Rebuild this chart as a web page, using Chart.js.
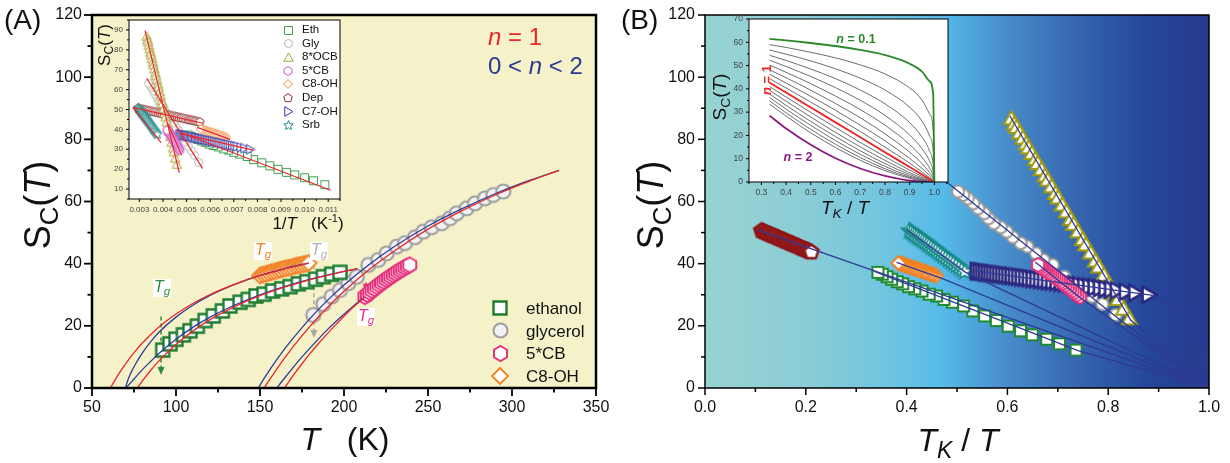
<!DOCTYPE html>
<html><head><meta charset="utf-8">
<script src="https://cdn.jsdelivr.net/npm/chart.js@4.4.1/dist/chart.umd.min.js"></script>
<style>
html,body{margin:0;padding:0;background:#fff;}
#wrap{position:relative;width:1230px;height:463px;overflow:hidden;font-family:"Liberation Sans",Arial,Helvetica,sans-serif;color:#111;}
#wrap canvas{position:absolute;}
.t{position:absolute;white-space:nowrap;line-height:1;}
.c{transform:translate(-50%,-50%);}
.r{transform:translate(-50%,-50%) rotate(-90deg);}
.l{transform:translate(0,-50%);}
sub{font-size:0.72em;vertical-align:-0.3em;line-height:0;}
sup{font-size:0.65em;vertical-align:0.55em;line-height:0;}
.tg{background:#fff;padding:0 1px 2px 1px;font-size:16px;}
</style></head><body>
<div id="wrap">
<canvas id="cA" width="615" height="463" style="left:0;top:0"></canvas>
<canvas id="cB" width="615" height="463" style="left:615px;top:0"></canvas>
<canvas id="iA" width="260" height="240" style="left:100px;top:0"></canvas>
<canvas id="iB" width="270" height="230" style="left:700px;top:0"></canvas>
</div>
<script>
// ---------------- DATA ----------------
// Ethanol
const ethT=[92.1,96.4,100,104.4,108.3,112.7,117.3,122.2,127.6,132.1,138.1,143,147.6,152.4,157.5,162.9,167.9,172.8,177.8,183.1,187.7,192.7,197.6];
const ethS=[12.2,14.2,15.7,17.1,18.4,19.9,21.7,23.2,24.8,26.4,27.6,28.5,29.6,30.2,31.2,31.9,32.6,33.5,34.2,35.0,35.8,36.6,37.2];
// Glycerol
const glyT=[181.7,187.7,192.7,197.6,202.6,207.6,214.5,220.4,225.4,231.4,236.3,242.3,247.2,252.2,258.2,263.1,267.1,273,278,283.9,288.9,294.8];
const glyS=[23.5,27.0,29.4,31.5,33.7,35.8,39.6,41.2,43.3,45.5,46.6,48.5,50.3,51.7,53.0,54.6,56.2,57.8,59.4,61.0,62.1,63.2];
// 5*CB
const cbT=[212.5,213.9,215.3,216.7,218.1,219.5,220.9,222.3,223.7,225.1,226.5,227.9,229.3,230.7,232.1,233.5,234.9,236.3,237.7,239.1];
const cbS=[29.4,30.1,30.8,31.4,32.0,32.6,33.2,33.8,34.3,34.9,35.4,35.9,36.4,36.9,37.4,37.9,38.3,38.8,39.2,39.6];
// C8-OH
const c8T=[150,151.7,153.4,155.1,156.8,158.5,160.2,161.9,163.6,165.3,167,168.7,170.4,172.1,173.8,175.5,177.2,178.9];
const c8S=[36.2,36.5,36.7,37.0,37.3,37.5,37.8,38.0,38.3,38.5,38.7,38.9,39.2,39.4,39.6,39.8,40.0,40.2];
// 8*OCB
const ocbT=[302,299,297,294,291,288,286,283,280,278,275,272,270,267,264,262,259,256,253,251,248,245,243,240,237,235,232,229,226,224,221,218];
const ocbS=[86.8,85.1,84.0,82.2,80.5,78.7,77.4,75.6,73.7,72.4,70.4,68.4,67.0,64.9,62.7,61.3,59.0,56.8,54.4,52.8,50.4,47.9,46.2,43.6,41.0,39.1,36.4,33.5,30.6,28.6,25.5,22.4];
// Dep
const depT=[340,330,320,311,302,294,286,279,272,265,259,253,247,242,237,232,227,222,218,214,210,206,202,198,195,192,189,186,183,180];
const depS=[50.6,50.4,50.1,49.9,49.6,49.4,49.1,48.9,48.7,48.4,48.2,47.9,47.7,47.5,47.2,47.0,46.7,46.5,46.3,46.0,45.8,45.6,45.3,45.0,44.8,44.6,44.4,44.2,43.9,43.7];
// C7-OH
const c7T=[212,210,208,206,204,202,200,198,196,194,192,190,188,186,184,182,180,178,176,174,172,170,168,166,164,162,160,158,156,154,152,150,148,146,144,142,140,137,134,130];
const c7S=[37.6,37.5,37.4,37.2,37.1,37.0,36.9,36.7,36.6,36.5,36.3,36.2,36.1,35.9,35.8,35.6,35.5,35.3,35.1,35.0,34.8,34.6,34.4,34.3,34.1,33.9,33.7,33.5,33.3,33.1,32.8,32.6,32.4,32.2,31.9,31.7,31.4,31.0,30.6,30.0];
// Srb
const srbT=[338,335,332,329,326,323,320,317,314,311,308,305,302,299,296,293,290,287,284,281,278,275,272,269,266];
const srbS=[50.6,50.2,49.7,49.3,48.8,48.3,47.9,47.4,46.9,46.4,45.9,45.3,44.8,44.3,43.7,43.1,42.5,41.9,41.3,40.7,40.1,39.4,38.8,38.1,37.4];
// Kauzmann temperatures (K)
const ethTK=67.8, glyTK=148, cbTK=158, c8TK=68.7, ocbTK=183.6, depTK=38, c7TK=114.5, srbTK=137;

// Panel A fit curves (red n=1, blue 0<n<2)
const ethRedT=[77,80,85,90,100,110,120,135,150,165,180,195,208];
const ethRedS=[0,2.3,5.7,8.8,14.0,18.3,21.9,26.2,29.7,32.5,34.9,36.9,38.4];
const ethBlueT=[70,72,75,80,85,90,100,110,120,135,150,165,180,195,208];
const ethBlueS=[0,1.1,2.9,5.9,8.6,11.2,15.7,19.5,22.7,26.7,30.0,32.7,35.0,36.9,38.4];
const c8RedT=[61,63,66,70,75,80,90,100,110,120,135,150,165,179];
const c8RedS=[0,1.9,4.6,7.8,11.4,14.5,19.7,23.8,27.2,30.0,33.4,36.2,38.4,40.2];
const c8BlueT=[70,71,73,76,80,85,90,100,110,120,135,150,165,179];
const c8BlueS=[0,2.0,4.7,7.8,11.3,14.9,18.0,22.8,26.6,29.7,33.3,36.2,38.5,40.2];
const glyRedT=[152.5,155,160,165,170,180,190,200,215,230,250,270,290,310,328];
const glyRedS=[0,2.1,6.1,9.9,13.5,20.0,25.8,31.1,38.1,44.1,51.1,57.0,62.1,66.5,70.0];
const glyBlueT=[149,152,155,160,165,170,180,190,200,215,230,250,270,290,310,328];
const glyBlueS=[0,2.7,5.2,9.1,12.8,16.2,22.5,28.1,33.1,39.7,45.5,52.1,57.6,62.5,66.7,70.0];
const cbRedT=[164.5,167,170,175,180,185,190,195,200,205,212];
const cbRedS=[0,1.9,4.2,7.8,11.2,14.4,17.4,20.3,23.1,25.7,29.1];
const cbBlueT=[160,163,166,170,175,180,185,190,195,200,205,212];
const cbBlueS=[0,2.1,4.1,6.8,10.0,13.0,15.9,18.7,21.3,23.7,26.1,29.3];

// Inset A red lines (1/T, S)
const ethLnX=[0.0048,0.0111], ethLnS=[38.2,9.4];
const glyLnX=[0.00331,0.00568], glyLnS=[65.7,20.3];
const ocbLnX=[0.00324,0.00469], ocbLnS=[89.7,18.2];
const cbLnX=[0.00419,0.00479], cbLnS=[43.1,27.1];
const c8LnX=[0.00545,0.00684], c8LnS=[41.0,35.0];
const depLnX=[0.00272,0.00571], depLnS=[51.1,43.1];
const c7LnX=[0.00472,0.00783], c7LnS=[38.0,29.6];
const srbLnX=[0.00272,0.00392], srbLnS=[51.1,33.3];

// Panel B fit lines (TK/T, S)
const ethFitX=[0.335,0.74,1.0], ethFitS=[37.6,12.0,0];
const glyFitX=[0.47,0.815,1.0], glyFitS=[67.5,23.0,0];
const ocbFitX=[0.605,0.845,1.0], ocbFitS=[87.5,21.8,0];
const cbFitX=[0.655,0.745,1.0], cbFitS=[40.5,29.0,0];
const c8FitX=[0.38,0.47,1.0], c8FitS=[40.4,35.3,0];
const depFitX=[0.105,1.0], depFitS=[50.8,0];
const c7FitX=[0.535,0.885,0.96,0.995,1.0], c7FitS=[37.7,29.9,24.5,13,0];
const srbFitX=[0.40,0.517,1.0], srbFitS=[51.0,37.2,0];

// Inset B model curves S vs TK/T
const ibX=[0.333,0.4,0.5,0.6,0.7,0.8,0.9,0.95,0.98,0.995,1.0];
const n01=[61.5,60.8,59.7,58.4,56.7,54.5,50.8,47.4,43.3,37.7,0];
const n02=[59.0,57.8,55.7,53.3,50.3,46.4,40.4,35.2,29.3,22.2,0];
const n03=[56.7,54.9,52.0,48.6,44.6,39.5,32.1,26.1,19.8,13.1,0];
const n04=[54.4,52.2,48.5,44.4,39.5,33.6,25.5,19.3,13.4,7.7,0];
const n05=[52.3,49.6,45.3,40.5,35.1,28.6,20.2,14.3,9.1,4.5,0];
const n06=[50.2,47.1,42.2,36.9,31.1,24.4,16.1,10.6,6.1,2.7,0];
const n07=[48.2,44.8,39.4,33.7,27.6,20.7,12.8,7.9,4.1,1.6,0];
const n08=[46.3,42.5,36.8,30.8,24.4,17.7,10.1,5.8,2.8,0.9,0];
const n09=[44.4,40.4,34.3,28.1,21.7,15.0,8.1,4.3,1.9,0.5,0];
const n10=[42.7,38.4,32.0,25.6,19.2,12.8,6.4,3.2,1.3,0.3,0];
const n11=[41.0,36.5,29.9,23.4,17.0,10.9,5.1,2.4,0.9,0.2,0];
const n12=[39.4,34.7,27.9,21.3,15.1,9.3,4.0,1.8,0.6,0.1,0];
const n13=[37.8,32.9,26.0,19.5,13.4,7.9,3.2,1.3,0.4,0.1,0];
const n14=[36.3,31.3,24.3,17.8,11.9,6.7,2.5,1.0,0.3,0.0,0];
const n15=[34.9,29.7,22.6,16.2,10.5,5.7,2.0,0.7,0.2,0.0,0];
const n16=[33.5,28.3,21.1,14.8,9.3,4.9,1.6,0.5,0.1,0.0,0];
const n20=[28.5,23.0,16.0,10.2,5.8,2.6,0.6,0.2,0.0,0,0];

// Tick labels
const aXTicks=[50,100,150,200,250,300,350];
const aYTicks=[0,20,40,60,80,100,120];
const bXTicks=[0,0.2,0.4,0.6,0.8,1.0];
const bYTicks=[0,20,40,60,80,100,120];
const iaXTicks=[0.003,0.004,0.005,0.006,0.007,0.008,0.009,0.010,0.011];
const iaYTicks=[10,20,30,40,50,60,70,80,90];
const ibXTicks=[0.3,0.4,0.5,0.6,0.7,0.8,0.9,1.0];
const ibYTicks=[0,10,20,30,40,50,60,70];

// Tg arrows (T, S top, S tip)
const tgT=[91.1,150,182.1,213.1];
const tgTop=[23,31.5,39.5,34];
const tgTip=[4.2,27.3,16.1,31];

// ---------------- HELPERS ----------------
const FF='"Liberation Sans", Arial, sans-serif';
const RED='#e8262a', BLUE='#2f3a96';
function poly(g,cx,cy,r,n,st){for(let k=0;k<n;k++){const a=(st+k*360/n)*Math.PI/180;const x=cx+r*Math.cos(a),y=cy+r*Math.sin(a);k?g.lineTo(x,y):g.moveTo(x,y);}g.closePath();}
function marker(shape,r,stroke,fill,lw){
  const size=Math.ceil(2*r+lw+4);const c=document.createElement('canvas');c.width=size;c.height=size;
  const g=c.getContext('2d');const cx=size/2,cy=size/2;g.beginPath();
  if(shape==='square')g.rect(cx-r,cy-r,2*r,2*r);
  else if(shape==='circle')g.arc(cx,cy,r,0,Math.PI*2);
  else if(shape==='triangle')poly(g,cx,cy+r*0.2,r*1.1,3,-90);
  else if(shape==='rtriangle')poly(g,cx-r*0.2,cy,r*1.1,3,0);
  else if(shape==='diamond')poly(g,cx,cy,r,4,-90);
  else if(shape==='pentagon')poly(g,cx,cy,r,5,-90);
  else if(shape==='hexagon')poly(g,cx,cy,r,6,-90);
  else if(shape==='star'){for(let k=0;k<10;k++){const rr=k%2?r*0.45:r;const a=(-90+k*36)*Math.PI/180;const x=cx+rr*Math.cos(a),y=cy+rr*Math.sin(a);k?g.lineTo(x,y):g.moveTo(x,y);}g.closePath();}
  g.fillStyle=fill;g.fill();g.lineJoin='miter';g.lineWidth=lw;g.strokeStyle=stroke;g.stroke();
  return c;
}
const xy=(xs,ys)=>xs.map((x,i)=>({x:x,y:ys[i]}));
const inv=T=>T.map(t=>1/t);
const red=(T,tk)=>T.map(t=>tk/t);
function pts(xs,ys,style){return {data:xy(xs,ys),pointStyle:style,pointRadius:5,showLine:false,order:1};}
function ln(xs,ys,color,w,mono){return {data:xy(xs,ys),showLine:true,pointRadius:0,borderColor:color,backgroundColor:color,borderWidth:w,order:0,fill:false,cubicInterpolationMode:mono?'monotone':'default',tension:0};}

function framePlugin(cfg){return {id:'frame'+Math.random(),
  beforeDraw(ch){const A=ch.chartArea,g=ch.ctx;g.save();
    if(cfg.grad){const gr=g.createLinearGradient(A.left,0,A.right,0);cfg.grad.forEach(s=>gr.addColorStop(s[0],s[1]));g.fillStyle=gr;}else g.fillStyle=cfg.bg;
    g.fillRect(A.left,A.top,A.right-A.left,A.bottom-A.top);g.restore();},
  afterDraw(ch){const A=ch.chartArea,g=ch.ctx;g.save();g.strokeStyle='#000';g.lineWidth=cfg.lw;
    g.strokeRect(A.left,A.top,A.right-A.left,A.bottom-A.top);
    g.lineWidth=cfg.tw;
    ['x','y'].forEach(ax=>{const s=ch.scales[ax],m=cfg[ax];const k0=Math.ceil(s.min/m.minor-1e-6);const k1=Math.floor(s.max/m.minor+1e-6);
      for(let k=k0;k<=k1;k++){const v=k*m.minor;const r=v/m.major;const maj=Math.abs(r-Math.round(r))<1e-6;const L=maj?cfg.len:cfg.mlen;const p=s.getPixelForValue(v);
        g.beginPath();if(ax==='x'){g.moveTo(p,A.bottom);g.lineTo(p,A.bottom+L);}else{g.moveTo(A.left,p);g.lineTo(A.left-L,p);}g.stroke();}});
    g.restore();}
};}
function opts(c){
  const sc=(min,max,tk,fmt,fit)=>({type:'linear',min:min,max:max,
    afterBuildTicks:s=>{s.ticks=tk.map(v=>({value:v}));},afterFit:fit,
    grid:{display:true,drawOnChartArea:false,drawTicks:true,tickLength:c.tl,color:'rgba(0,0,0,0)'},
    border:{display:false},
    ticks:{autoSkip:false,maxRotation:0,minRotation:0,padding:c.tp,color:c.tc,font:{family:FF,size:c.fs},callback:fmt}});
  return {responsive:false,animation:false,events:[],devicePixelRatio:1,
    layout:{padding:{left:0,right:c.pr,top:c.pt,bottom:0}},
    plugins:{legend:{display:false},tooltip:{enabled:false}},
    scales:{x:sc(c.x[0],c.x[1],c.xt,c.xf,s=>{s.height=c.xh;}),y:sc(c.y[0],c.y[1],c.yt,c.yf,s=>{s.width=c.yw;})}};
}

// ---------------- MARKERS ----------------
const mA={eth:marker('square',6.5,'#1f7d32','#fff',2.4),gly:marker('circle',7,'#a0a0a0','#f2f2f2',2.2),cb:marker('hexagon',7.5,'#e6317c','#fff',2),c8:marker('diamond',8,'#f2801f','#fff',1.8)};
const mB={eth:marker('square',5.5,'#1f8a30','#fff',2),gly:marker('circle',6,'#9a9a9a','#fff',2),ocb:marker('triangle',8,'#a09a10','#fff',2),cb:marker('hexagon',7,'#e6317c','#fff',2),c8:marker('diamond',7,'#f2801f','#fff',2),dep:marker('pentagon',7.5,'#8e1616','#fff',2.5),c7:marker('rtriangle',8.5,'#2b2880','#fff',2.6),srb:marker('star',8,'#148a8a','#fff',1.6)};
const mI={eth:marker('square',4,'#3fa050','#fff',1),gly:marker('circle',4,'#b5b5b5','#fff',1),ocb:marker('triangle',5,'#a8a030','#fff',1),cb:marker('hexagon',4.5,'#cc55cc','#fff',1),c8:marker('diamond',4.5,'#f09040','#fff',1),dep:marker('pentagon',4.5,'#8b2a2a','#fff',1),c7:marker('rtriangle',5,'#3535a0','#fff',1),srb:marker('star',5,'#208a8a','#fff',1)};

// ---------------- PANEL A ----------------
const tgCol=['#2e8b3e','#f2801f','#a8a8a8','#e6317c'], tgDash=[true,false,true,false];
const tgPlugin={id:'tg',beforeDatasetsDraw(ch){const g=ch.ctx,xs=ch.scales.x,ys=ch.scales.y;g.save();
  tgT.forEach((T,i)=>{const x=xs.getPixelForValue(T),y0=ys.getPixelForValue(tgTop[i]),y1=ys.getPixelForValue(tgTip[i]);
    g.strokeStyle=tgCol[i];g.fillStyle=tgCol[i];g.lineWidth=1.5;g.setLineDash(tgDash[i]?[4,3]:[]);
    g.beginPath();g.moveTo(x,y0);g.lineTo(x,y1-6);g.stroke();g.setLineDash([]);
    g.beginPath();g.moveTo(x-3.5,y1-8);g.lineTo(x+3.5,y1-8);g.lineTo(x,y1);g.closePath();g.fill();});
  g.restore();}};
new Chart(document.getElementById('cA'),{type:'scatter',
  data:{datasets:[
    ln(ethRedT,ethRedS,RED,1.3,true),ln(ethBlueT,ethBlueS,BLUE,1.3,true),
    ln(c8RedT,c8RedS,RED,1.3,true),ln(c8BlueT,c8BlueS,BLUE,1.3,true),
    ln(glyRedT,glyRedS,RED,1.3,true),ln(glyBlueT,glyBlueS,BLUE,1.3,true),
    ln(cbRedT,cbRedS,RED,1.3,true),ln(cbBlueT,cbBlueS,BLUE,1.3,true),
    pts(cbT,cbS,mA.cb),pts(c8T,c8S,mA.c8),pts(ethT,ethS,mA.eth),pts(glyT,glyS,mA.gly)]},
  options:opts({x:[50,350],y:[0,120],xt:aXTicks,yt:aYTicks,xf:v=>String(v),yf:v=>String(v),xh:75,yw:92,pr:19,pt:15,tl:8,tp:2,tc:'#111',fs:16}),
  plugins:[framePlugin({bg:'#f5f2c9',lw:2.5,tw:1.8,len:8,mlen:4.5,x:{minor:25,major:50},y:{minor:10,major:20}}),tgPlugin]});

// ---------------- INSET A ----------------
new Chart(document.getElementById('iA'),{type:'scatter',
  data:{datasets:[
    ln(ethLnX,ethLnS,RED,1.2),ln(glyLnX,glyLnS,RED,1.2),ln(ocbLnX,ocbLnS,RED,1.2),ln(cbLnX,cbLnS,RED,1.2),
    ln(c8LnX,c8LnS,RED,1.2),ln(depLnX,depLnS,RED,1.2),ln(c7LnX,c7LnS,RED,1.2),ln(srbLnX,srbLnS,RED,1.2),
    pts(inv(cbT),cbS,mI.cb),pts(inv(srbT),srbS,mI.srb),pts(inv(c7T),c7S,mI.c7),pts(inv(ocbT),ocbS,mI.ocb),
    pts(inv(c8T),c8S,mI.c8),pts(inv(depT),depS,mI.dep),pts(inv(glyT),glyS,mI.gly),pts(inv(ethT),ethS,mI.eth)]},
  options:opts({x:[0.00256,0.0115],y:[5,95],xt:iaXTicks,yt:iaYTicks,xf:v=>v.toFixed(3),yf:v=>String(v),xh:41,yw:29,pr:20,pt:20,tl:3,tp:3,tc:'#444',fs:8}),
  plugins:[framePlugin({bg:'#fff',lw:1,tw:1,len:3,mlen:2,x:{minor:0.0005,major:0.001},y:{minor:5,major:10}})]});

// ---------------- PANEL B ----------------
new Chart(document.getElementById('cB'),{type:'scatter',
  data:{datasets:[
    ln(ethFitX,ethFitS,BLUE,1.3),ln(glyFitX,glyFitS,BLUE,1.3),ln(ocbFitX,ocbFitS,BLUE,1.3),ln(cbFitX,cbFitS,BLUE,1.3),
    ln(c8FitX,c8FitS,BLUE,1.3),ln(depFitX,depFitS,BLUE,1.3),ln(c7FitX,c7FitS,BLUE,1.3),ln(srbFitX,srbFitS,BLUE,1.3),
    pts(red(cbT,cbTK),cbS,mB.cb),pts(red(c7T,c7TK),c7S,mB.c7),pts(red(ocbT,ocbTK),ocbS,mB.ocb),pts(red(glyT,glyTK),glyS,mB.gly),
    pts(red(srbT,srbTK),srbS,mB.srb),pts(red(c8T,c8TK),c8S,mB.c8),pts(red(depT,depTK),depS,mB.dep),pts(red(ethT,ethTK),ethS,mB.eth)]},
  options:opts({x:[0,1],y:[0,120],xt:bXTicks,yt:bYTicks,xf:v=>v.toFixed(1),yf:v=>String(v),xh:75,yw:90,pr:21,pt:15,tl:8,tp:2,tc:'#111',fs:16}),
  plugins:[framePlugin({grad:[[0,'#99d3d1'],[0.2,'#8acdd6'],[0.35,'#72c5df'],[0.47,'#56bbe9'],[0.6,'#478ccb'],[0.75,'#3463ad'],[0.88,'#25469a'],[1,'#283a8e']],lw:1.5,tw:1.5,len:7,mlen:4,x:{minor:0.1,major:0.2},y:{minor:10,major:20}})]});

// ---------------- INSET B ----------------
const grey='#6e6e6e';
new Chart(document.getElementById('iB'),{type:'scatter',
  data:{datasets:[
    ln(ibX,n01,'#2a8a2a',1.8,true),ln(ibX,n10,'#ee2222',1.8,true),ln(ibX,n20,'#8b1a80',1.8,true),
    ln(ibX,n02,grey,1,true),ln(ibX,n03,grey,1,true),ln(ibX,n04,grey,1,true),ln(ibX,n05,grey,1,true),
    ln(ibX,n06,grey,1,true),ln(ibX,n07,grey,1,true),ln(ibX,n08,grey,1,true),ln(ibX,n09,grey,1,true),
    ln(ibX,n11,grey,1,true),ln(ibX,n12,grey,1,true),ln(ibX,n13,grey,1,true),ln(ibX,n14,grey,1,true),
    ln(ibX,n15,grey,1,true),ln(ibX,n16,grey,1,true)]},
  options:opts({x:[0.25,1.055],y:[0,70],xt:ibXTicks,yt:ibYTicks,xf:v=>v.toFixed(1),yf:v=>String(v),xh:48,yw:49,pr:22,pt:19,tl:3,tp:3,tc:'#444',fs:8.5}),
  plugins:[framePlugin({bg:'#fff',lw:1,tw:1,len:3,mlen:2,x:{minor:0.05,major:0.1},y:{minor:5,major:10}})]});

// ---------------- TEXT & LEGENDS ----------------
const wrap=document.getElementById('wrap');
function txt(html,cls,x,y,style){const d=document.createElement('div');d.className='t '+cls;d.style.left=x+'px';d.style.top=y+'px';d.style.cssText+=';'+(style||'');d.innerHTML=html;wrap.appendChild(d);return d;}
function legendItem(mk,x,y,label,tx,fs){mk.style.left=(x-mk.width/2)+'px';mk.style.top=(y-mk.height/2)+'px';wrap.appendChild(mk);txt(label,'l',tx,y,'font-size:'+fs+'px');}
const SC='S<sub>C</sub>(<i>T</i>)';
txt('(A)','',4,6,'font-size:28px');
txt('(B)','',621,6,'font-size:28px');
txt(SC,'r',38,205,'font-size:36px');
txt('<i>T</i>&nbsp;&nbsp;&nbsp;(K)','c',345,439,'font-size:32px');
txt(SC,'r',651,205,'font-size:36px');
txt('<i>T</i><sub><i>K</i></sub> / <i>T</i>','c',958,440,'font-size:32px');
txt('<i>n</i> = 1','l',488,37,'font-size:24px;color:#e8262a');
txt('0 &lt; <i>n</i> &lt; 2','l',488,66,'font-size:24px;color:#2b3990');
txt(SC,'r',104,45,'font-size:17px');
txt('1/<i>T</i>&nbsp;&nbsp;&nbsp;(K<sup>-1</sup>)','c',308,223,'font-size:17px');
txt(SC,'r',719,97,'font-size:19px');
txt('<i>T</i><sub><i>K</i></sub> / <i>T</i>','c',845,207,'font-size:19px');
txt('<i>n</i> = 0.1','c',856,39,'font-size:12.5px;font-weight:bold;color:#2a8a2a');
txt('<i>n</i> = 1','r',766,80,'font-size:13px;font-weight:bold;color:#ee2222');
txt('<i>n</i> = 2','c',798,157,'font-size:12.5px;font-weight:bold;color:#8b1a80');
const TG='<i>T</i><sub><i>g</i></sub>';
txt(TG,'tg',153,279,'color:#2e8b3e');
txt(TG,'tg',254,242,'color:#f2801f');
txt(TG,'tg',310,242,'color:#b0b0b0');
txt(TG,'tg',357,308,'color:#e6317c');
// main legend A
const legA=[['square',6.5,'#1f7d32','#fff',2.4,'ethanol'],['circle',7,'#a0a0a0','#f2f2f2',2.2,'glycerol'],['hexagon',7.5,'#e6317c','#fff',2,'5*CB'],['diamond',8,'#f2801f','#fff',1.8,'C8-OH']];
legA.forEach((it,i)=>legendItem(marker(it[0],it[1],it[2],it[3],it[4]),500,308+i*22.6,it[5],526,17));
// inset legend A
const legI=[['square',4,'#3fa050','Eth'],['circle',4,'#b5b5b5','Gly'],['triangle',5,'#a8a030','8*OCB'],['hexagon',4.5,'#cc55cc','5*CB'],['diamond',4.5,'#f09040','C8-OH'],['pentagon',4.5,'#8b2a2a','Dep'],['rtriangle',5,'#3535a0','C7-OH'],['star',5,'#208a8a','Srb']];
legI.forEach((it,i)=>legendItem(marker(it[0],it[1],it[2],'#fff',1),288,30+i*13.6,it[3],302,11.5));
</script>
</body></html>
